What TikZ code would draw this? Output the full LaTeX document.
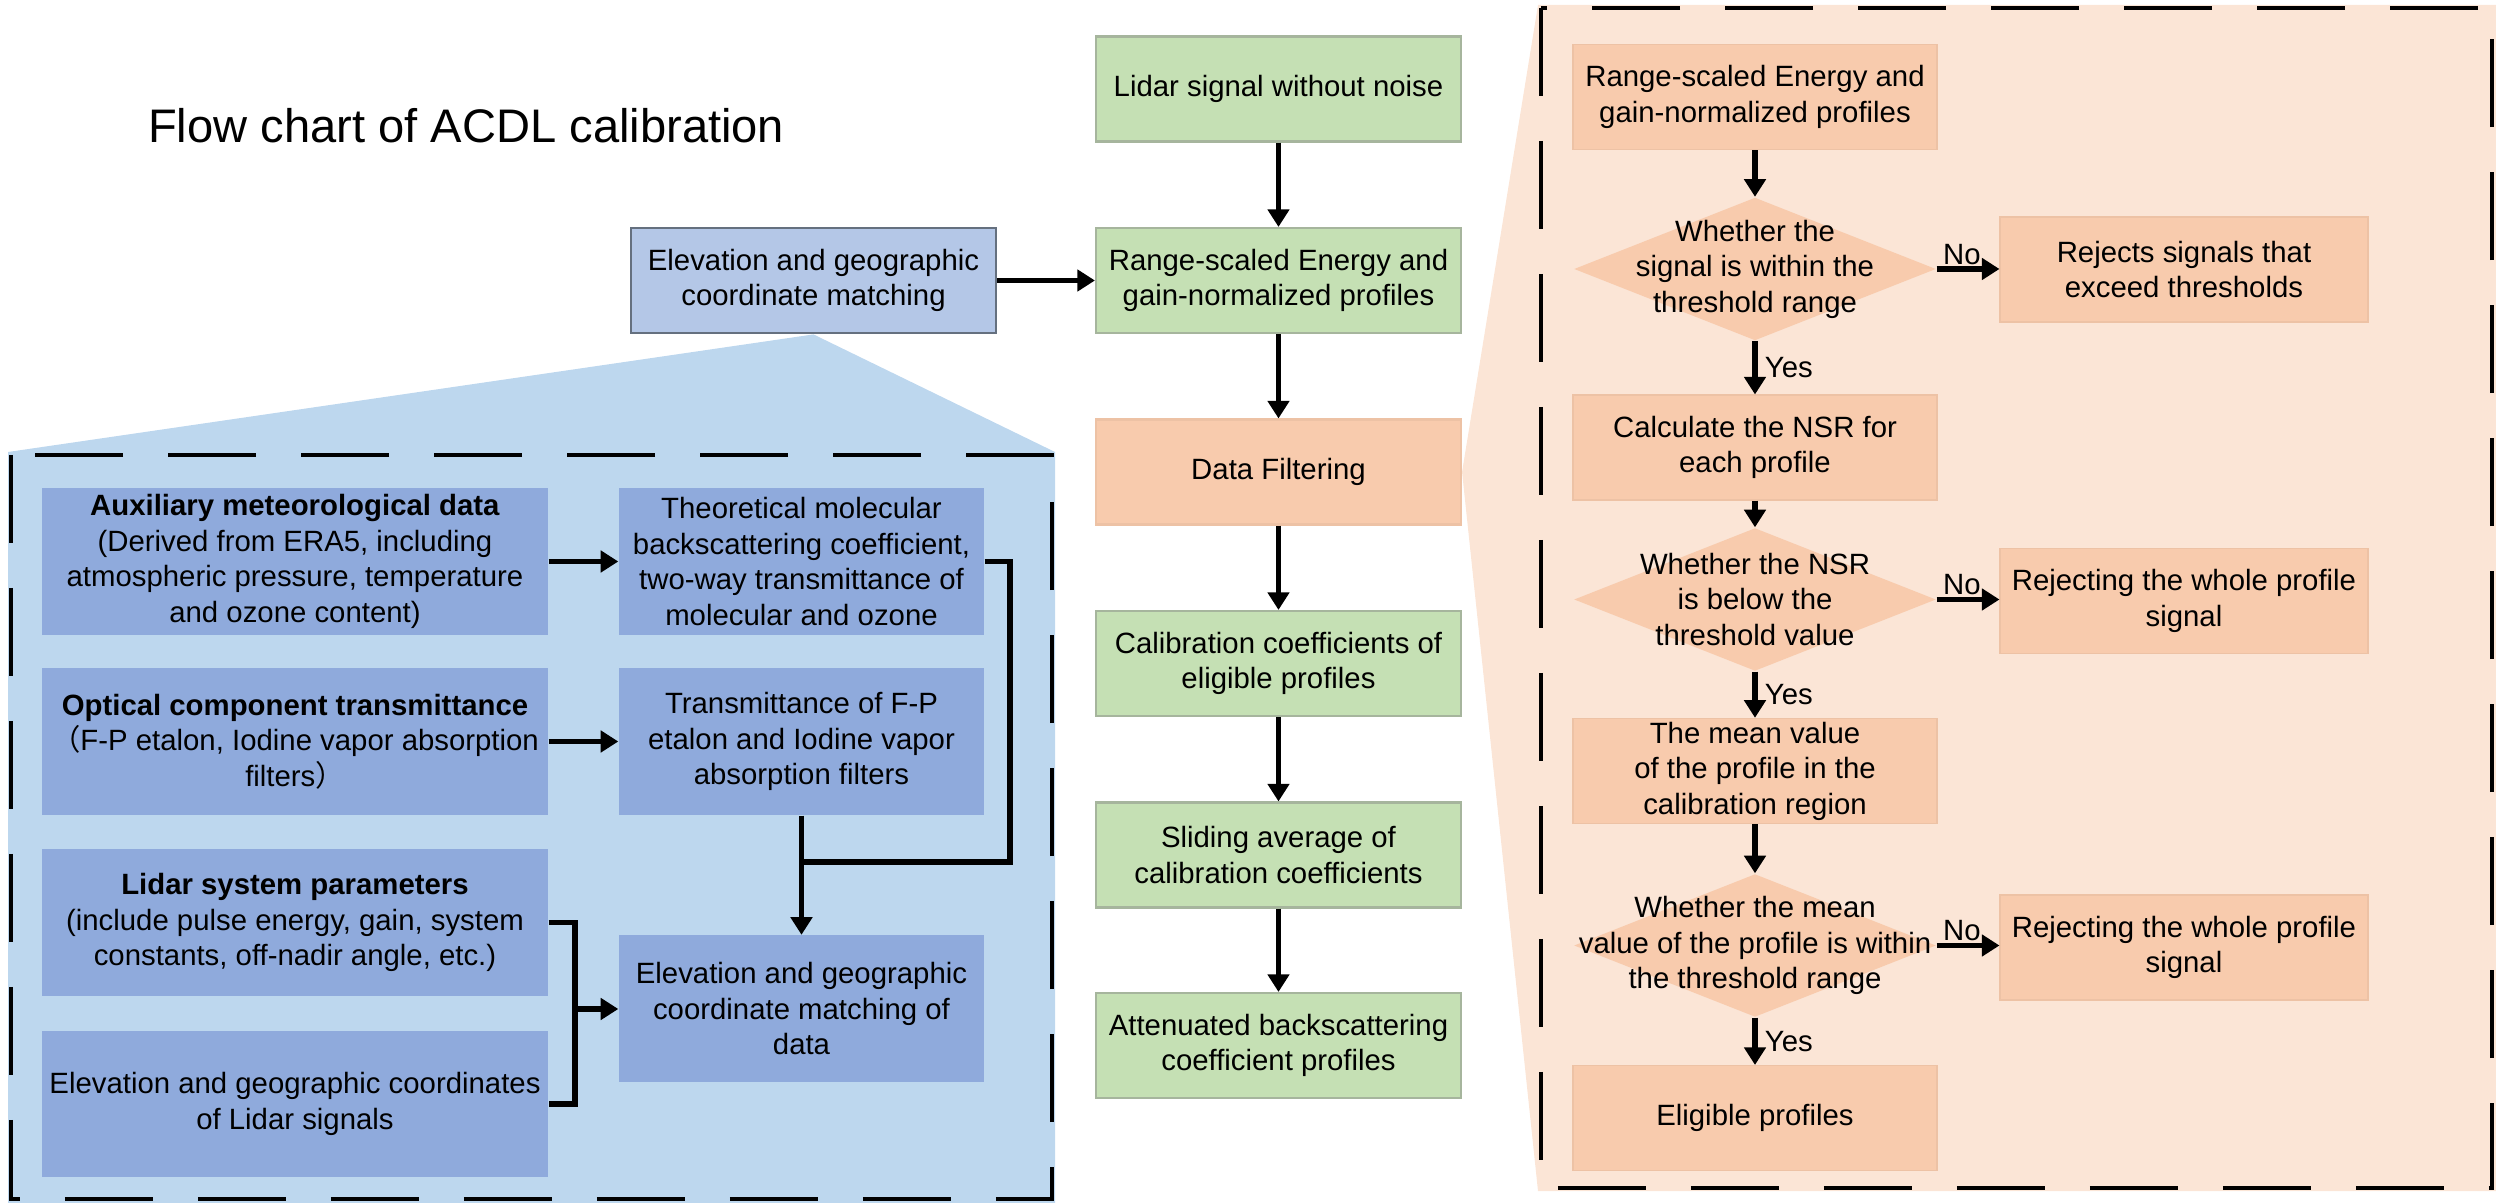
\documentclass[tikz,border=0pt]{standalone}
\usepackage{fontspec}
\setmainfont{Liberation Sans}
\newfontfamily\cjk{Noto Sans CJK SC}
\usetikzlibrary{arrows.meta,shapes.geometric,backgrounds}

\definecolor{greenbox}{HTML}{C5E0B4}
\definecolor{greenline}{HTML}{A6B59D}
\definecolor{peachbox}{HTML}{F8CBAD}
\definecolor{peachline}{HTML}{EDC2A5}
\definecolor{peachfill}{HTML}{FBE5D6}
\definecolor{bluebox}{HTML}{8FAADC}
\definecolor{bluetop}{HTML}{B4C7E7}
\definecolor{blueline}{HTML}{65707F}
\definecolor{bluefill}{HTML}{BDD7EE}

\tikzset{
  every node/.style={font=\fontsize{8.35}{10.1}\selectfont, align=center, inner sep=1pt},
  title/.style={font=\fontsize{13.4}{16}\selectfont},
  mainbox/.style={fill=greenbox, draw=greenline, line width=0.6pt,
    minimum width=36.5mm, minimum height=10.5mm},
  filtbox/.style={mainbox, fill=peachbox, draw=peachline},
  topbox/.style={mainbox, fill=bluetop, draw=blueline, line width=0.8pt},
  inbox/.style={fill=bluebox, minimum width=36.5mm, minimum height=14.7mm},
  widebox/.style={inbox, minimum width=50.6mm},
  peach/.style={fill=peachbox, draw=peachline, line width=0.3pt,
    minimum width=36.4mm, minimum height=10.5mm},
  reject/.style={peach, minimum width=36.8mm},
  decide/.style={diamond, fill=peachbox, minimum width=36.2mm,
    minimum height=14.3mm, inner sep=0pt},
  arrow/.style={-{Triangle[length=5pt,width=6pt]}, line width=1.6pt},
  link/.style={line width=1.6pt},
  zone/.style={line width=1.4pt, dash pattern=on 8.8mm off 4.5mm}
}

\begin{document}
\begin{tikzpicture}[x=0.1mm,y=-0.1mm]
  \useasboundingbox (0,0) rectangle (2496,1203);

  \node[title, anchor=base west] (ttl) at (144,143) {Flow chart of ACDL calibration};
  \node[topbox] (elev) at (813.5,280.5) {Elevation and geographic\\coordinate matching};

  % main column
  \node[mainbox] (clean) at (1278.5,89)   {Lidar signal without noise};
  \node[mainbox] (rsc)   at (1278.5,280.5) {Range-scaled Energy and\\gain-normalized profiles};
  \node[filtbox] (filt)  at (1278.5,472)  {Data Filtering};
  \node[mainbox] (coef)  at (1278.5,663.5) {Calibration coefficients of\\eligible profiles};
  \node[mainbox] (slide) at (1278.5,855)  {Sliding average of\\calibration coefficients};
  \node[mainbox] (atb)   at (1278.5,1045.5) {Attenuated backscattering\\coefficient profiles};

  \foreach \a/\b in {clean/rsc, rsc/filt, filt/coef, coef/slide, slide/atb}
    \draw[arrow] (\a) -- (\b);
  \draw[arrow] (elev.east) -- (rsc.west);

  % matching detail
  \node[widebox] (aux)  at (295,561.5)  {\textbf{Auxiliary meteorological data}\\(Derived from ERA5, including\\atmospheric pressure, temperature\\and ozone content)};
  \node[inbox]   (mol)  at (801.5,561.5) {Theoretical molecular\\backscattering coefficient,\\two-way transmittance of\\molecular and ozone};
  \node[widebox] (opt)  at (295,741.5)  {\textbf{Optical component transmittance}\\{\cjk （}F-P etalon, Iodine vapor absorption\\filters{\cjk ）}};
  \node[inbox]   (fp)   at (801.5,741.5) {Transmittance of F-P\\etalon and Iodine vapor\\absorption filters};
  \node[widebox] (sys)  at (295,922.5)  {\textbf{Lidar system parameters}\\(include pulse energy, gain, system\\constants, off-nadir angle, etc.)};
  \node[widebox] (geo)  at (295,1104)   {Elevation and geographic coordinates\\of Lidar signals};
  \node[inbox]   (mat)  at (801.5,1009) {Elevation and geographic\\coordinate matching of\\data};

  \coordinate (jn) at (801.5,862);
  \coordinate (br) at (575,1009);
  \draw[arrow] (aux) -- (mol);
  \draw[arrow] (opt.east |- fp) -- (fp);
  \draw[link] (mol.east) -- ++(25,0) |- (jn);
  \draw[arrow] (fp) -- (mat);
  \draw[link] (sys.east) -| (br) |- (geo.east);
  \draw[arrow] (br) -- (mat);

  % filtering detail
  \node[peach]  (p1)   at (1755,97)    {Range-scaled Energy and\\gain-normalized profiles};
  \node[decide] (q1)   at (1755,269)   {};
  \node         (q1t)  at (q1)         {Whether the\\signal is within the\\threshold range};
  \node[reject] (rj1)  at (2184,269.5) {Rejects signals that\\exceed thresholds};
  \node[peach]  (nsr)  at (1755,447.5) {Calculate the NSR for\\each profile};
  \node[decide] (q2)   at (1755,599.5) {};
  \node         (q2t)  at (q2)         {Whether the NSR\\is below the\\threshold value};
  \node[reject] (rj2)  at (2184,601)   {Rejecting the whole profile\\signal};
  \node[peach]  (mean) at (1755,771)   {The mean value\\of the profile in the\\calibration region};
  \node[decide] (q3)   at (1755,945.5) {};
  \node         (q3t)  at (q3)         {Whether the mean\\value of the profile is within\\the threshold range};
  \node[reject] (rj3)  at (2184,947.5) {Rejecting the whole profile\\signal};
  \node[peach]  (elig) at (1755,1118)  {Eligible profiles};

  \draw[arrow] (p1) -- (q1);
  \draw[arrow] (nsr) -- (q2);
  \draw[arrow] (mean) -- (q3);
  \foreach \q/\n in {q1/nsr, q2/mean, q3/elig}
    \draw[arrow] (\q.south) -- node[right=1pt] {Yes} (\n.north);
  \foreach \q/\r in {q1/rj1, q2/rj2, q3/rj3}
    \draw[arrow] (\q.east) -- node[above, pos=0.4, inner sep=0.5pt] {No} (\q.east -| \r.west);

  \begin{scope}[on background layer]
    \fill[bluefill] (elev.south) -- (1055,452) -- (1055,1203) -- (8,1203) -- (8,452) -- cycle;
    \fill[peachfill] (filt.east) -- (1538,5) -- (2496,5) -- (2496,1191) -- (1538,1191) -- cycle;
    \draw[zone] (11,455) rectangle (1052,1199);
    \draw[zone] (1541,8) rectangle (2492,1188);
  \end{scope}
\end{tikzpicture}
\end{document}
